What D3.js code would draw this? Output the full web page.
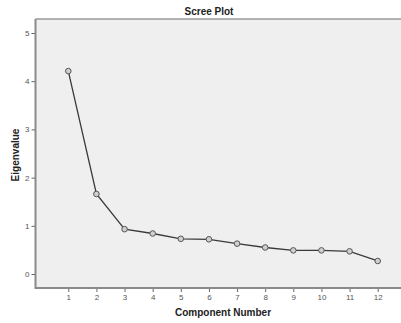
<!DOCTYPE html>
<html>
<head>
<meta charset="utf-8">
<script src="https://cdn.jsdelivr.net/npm/d3@7"></script>
<style>
body { margin: 0; background: #fff; }
text { font-family: "Liberation Sans", Arial, sans-serif; }
</style>
</head>
<body>
<script>
// scree plot data
var components = [1, 2, 3, 4, 5, 6, 7, 8, 9, 10, 11, 12];
var eigenvalues = [4.21, 1.66, 0.93, 0.84, 0.73, 0.72, 0.63, 0.55, 0.49, 0.49, 0.47, 0.27];
var yTicks = [0, 1, 2, 3, 4, 5];

var w = 401, h = 323;
var plotLeft = 35.5, plotTop = 19, plotBottom = 288;

var svg = d3.select("body").append("svg")
	.attr("width", w)
	.attr("height", h);

var x = d3.scaleLinear().domain([1, 12]).range([68.3, 377.7]);
var y = d3.scaleLinear().domain([0, 5]).range([274, 33]);

// plot background
svg.append("rect")
	.attr("x", plotLeft)
	.attr("y", plotTop)
	.attr("width", w - plotLeft + 2)
	.attr("height", plotBottom - plotTop)
	.attr("fill", "#efefef");

// top frame line
svg.append("line")
	.attr("x1", plotLeft).attr("x2", w)
	.attr("y1", plotTop).attr("y2", plotTop)
	.attr("stroke", "#9a9a9a")
	.attr("stroke-width", 1.5);

// axes
var xAxis = d3.axisBottom(x).tickValues(components).tickSize(4).tickPadding(2).tickFormat(d3.format("d"));
var yAxis = d3.axisLeft(y).tickValues(yTicks).tickSize(4).tickPadding(2).tickFormat(d3.format("d"));

var gx = svg.append("g").attr("transform", "translate(0," + plotBottom + ")").call(xAxis);
gx.select(".domain").remove();
gx.append("line").attr("x1", plotLeft).attr("x2", w).attr("stroke", "#8a8a8a").attr("stroke-width", 2);

var gy = svg.append("g").attr("transform", "translate(" + plotLeft + ",0)").call(yAxis);
gy.select(".domain").remove();
gy.append("line").attr("y1", plotTop).attr("y2", plotBottom + 1).attr("stroke", "#8a8a8a").attr("stroke-width", 2);

[gx, gy].forEach(function(g) {
	g.selectAll(".tick line").attr("stroke", "#666").attr("stroke-width", 1);
	g.selectAll(".tick text").attr("fill", "#555").attr("font-size", 8);
});

// line + markers
var line = d3.line()
	.x(function(d, i) { return x(components[i]); })
	.y(function(d) { return y(d); });

svg.append("path")
	.datum(eigenvalues)
	.attr("d", line)
	.attr("fill", "none")
	.attr("stroke", "#3a3a3a")
	.attr("stroke-width", 1.3);

svg.selectAll("circle.pt")
	.data(eigenvalues)
	.enter().append("circle")
	.attr("class", "pt")
	.attr("cx", function(d, i) { return x(components[i]); })
	.attr("cy", function(d) { return y(d); })
	.attr("r", 2.8)
	.attr("fill", "#d0d0d0")
	.attr("stroke", "#555")
	.attr("stroke-width", 1);

// titles
svg.append("text")
	.attr("x", 209).attr("y", 15)
	.attr("text-anchor", "middle")
	.attr("font-size", 10).attr("font-weight", "bold")
	.attr("fill", "#222")
	.text("Scree Plot");

svg.append("text")
	.attr("x", 223).attr("y", 316)
	.attr("text-anchor", "middle")
	.attr("font-size", 10).attr("font-weight", "bold")
	.attr("fill", "#222")
	.text("Component Number");

svg.append("text")
	.attr("transform", "translate(18.5,155) rotate(-90)")
	.attr("text-anchor", "middle")
	.attr("font-size", 10).attr("font-weight", "bold")
	.attr("fill", "#222")
	.text("Eigenvalue");
</script>
</body>
</html>
